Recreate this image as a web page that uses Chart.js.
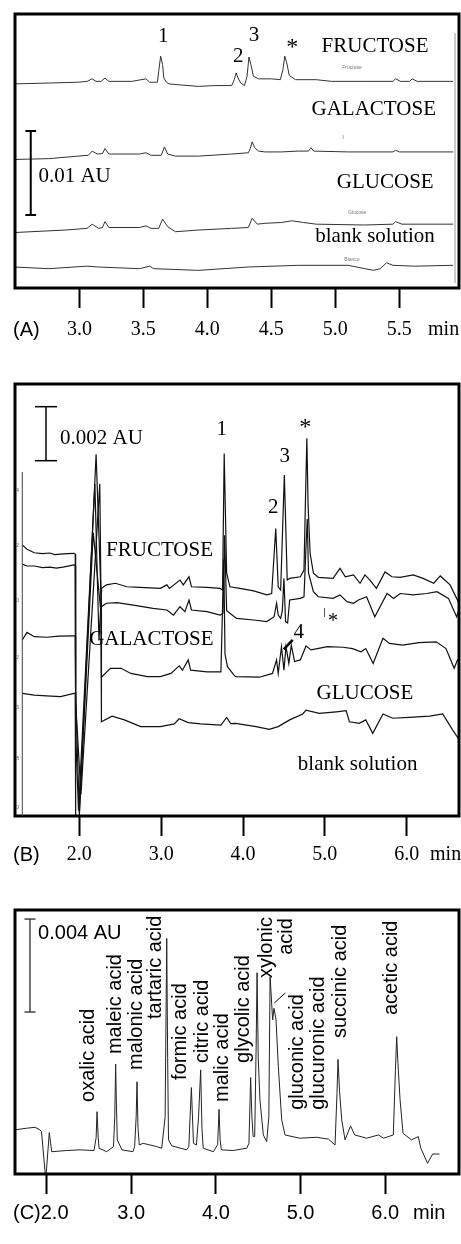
<!DOCTYPE html>
<html>
<head>
<meta charset="utf-8">
<script src="https://cdn.jsdelivr.net/npm/chart.js@4.4.1/dist/chart.umd.min.js"></script>
<style>
  html, body { margin: 0; padding: 0; background: #fff; }
  #page { position: relative; width: 461px; height: 1244px; overflow: hidden; }
  canvas { position: absolute; left: 0; }
</style>
</head>
<body>
<div id="page">
  <canvas id="chartA" width="461" height="345" style="top:0px"></canvas>
  <canvas id="chartB" width="461" height="530" style="top:345px"></canvas>
  <canvas id="chartC" width="461" height="369" style="top:875px"></canvas>
</div>
<script>
// ---- data: [time (min), signal (mAU)] ----

// panel A, sugars with 0.01 AU bar
const aTicks = [3.0, 3.5, 4.0, 4.5, 5.0, 5.5];
const aFructose = [
  [2.49, 24.3], [2.76, 24.4], [2.99, 24.5], [3.06, 24.6], [3.10, 24.9], [3.13, 24.6], [3.17, 24.6],
  [3.20, 25.0], [3.23, 24.6], [3.41, 24.6], [3.52, 24.9], [3.55, 24.5], [3.61, 24.5], [3.62, 25.8],
  [3.635, 27.6], [3.65, 26.6], [3.66, 25.0], [3.68, 24.5], [3.70, 24.3], [3.77, 24.2], [3.93, 24.0],
  [4.06, 24.1], [4.19, 24.1], [4.21, 24.8], [4.225, 25.6], [4.24, 25.0], [4.26, 24.4], [4.29, 24.1],
  [4.31, 25.2], [4.325, 27.5], [4.34, 26.6], [4.36, 25.2], [4.40, 24.9], [4.50, 24.9], [4.57, 24.8],
  [4.59, 26.0], [4.605, 27.6], [4.62, 26.8], [4.64, 25.3], [4.69, 24.8], [4.85, 24.8], [4.97, 24.6],
  [5.23, 24.6], [5.45, 24.6], [5.47, 24.9], [5.51, 24.6], [5.58, 24.6], [5.60, 24.9], [5.64, 24.6],
  [5.92, 24.6]
];
const aGalactose = [
  [2.49, 15.3], [2.76, 15.4], [2.99, 15.7], [3.07, 15.8], [3.10, 16.3], [3.14, 15.95], [3.18, 16.0],
  [3.20, 16.6], [3.23, 15.95], [3.47, 15.95], [3.52, 16.1], [3.56, 15.8], [3.64, 15.8], [3.665, 16.8],
  [3.69, 15.95], [3.75, 15.7], [3.93, 15.7], [4.19, 15.95], [4.32, 16.1], [4.335, 16.6], [4.35, 17.4],
  [4.37, 16.7], [4.40, 16.3], [4.45, 16.2], [4.58, 16.2], [4.71, 16.3], [4.79, 16.3], [4.81, 16.7],
  [4.83, 16.3], [5.10, 16.2], [5.45, 16.2], [5.47, 16.4], [5.50, 16.2], [5.92, 16.2]
];
const aGlucose = [
  [2.49, 6.6], [2.89, 6.9], [3.06, 7.1], [3.10, 7.6], [3.15, 7.1], [3.18, 7.2], [3.20, 7.9], [3.23, 7.2],
  [3.47, 7.2], [3.52, 7.4], [3.56, 7.1], [3.62, 7.1], [3.65, 8.2], [3.69, 7.3], [3.75, 6.7], [3.93, 6.9],
  [4.19, 7.1], [4.32, 7.2], [4.35, 8.3], [4.39, 7.6], [4.45, 7.7], [4.58, 7.8], [4.66, 8.0], [4.75, 7.8],
  [4.85, 7.6], [5.23, 7.5], [5.45, 7.6], [5.47, 7.9], [5.52, 7.6], [5.92, 7.6]
];
const aBlank = [
  [2.49, 2.5], [2.76, 2.3], [3.06, 2.6], [3.15, 2.5], [3.47, 2.3], [3.55, 2.6], [3.58, 2.3], [3.93, 2.1],
  [4.32, 2.5], [4.71, 2.7], [5.10, 2.7], [5.23, 2.3], [5.30, 2.1], [5.35, 2.3], [5.40, 3.0], [5.45, 2.7],
  [5.62, 2.6], [5.92, 2.7]
];

// panel B, sugars with 0.002 AU bar
const bTicks = [2, 3, 4, 5, 6];
const bFructose = [
  [1.303, 10.04], [1.36, 9.88], [1.45, 9.75], [1.55, 9.72], [1.64, 9.74], [1.70, 9.68], [1.77, 9.70],
  [1.85, 9.72], [1.935, 9.73], [1.95, 9.70], [1.955, 3.0], [1.99, 0.2], [2.19, 12.3], [2.24, 6.5],
  [2.273, 8.43], [2.33, 8.56], [2.44, 8.62], [2.58, 8.49], [2.74, 8.47], [2.99, 8.43], [3.07, 8.56],
  [3.10, 8.43], [3.23, 8.74], [3.27, 8.56], [3.34, 8.86], [3.37, 8.49], [3.56, 8.47], [3.72, 8.43],
  [3.75, 8.37], [3.77, 13.43], [3.80, 9.0], [3.84, 8.49], [3.96, 8.43], [4.13, 8.34], [4.29, 8.19],
  [4.35, 8.24], [4.40, 10.65], [4.43, 8.49], [4.46, 8.37], [4.505, 12.63], [4.54, 8.74], [4.57, 8.80],
  [4.70, 8.86], [4.745, 9.11], [4.765, 12.0], [4.78, 13.99], [4.795, 11.5], [4.82, 9.73], [4.86, 8.99],
  [4.92, 8.84], [5.10, 8.80], [5.185, 9.17], [5.25, 8.86], [5.35, 8.93], [5.43, 8.62], [5.49, 8.93],
  [5.55, 8.74], [5.63, 8.43], [5.735, 9.04], [5.82, 8.86], [5.92, 8.84], [6.08, 8.93], [6.20, 8.80],
  [6.33, 8.62], [6.41, 8.89], [6.53, 8.56], [6.61, 8.06], [6.65, 7.81]
];
const bGalactose = [
  [1.303, 9.33], [1.36, 9.26], [1.45, 9.26], [1.55, 9.20], [1.64, 9.22], [1.72, 9.18], [1.80, 9.22],
  [1.935, 9.30], [1.95, 9.28], [1.955, 4.5], [2.0, 0.1], [2.205, 13.4], [2.27, 7.75], [2.33, 7.88],
  [2.46, 7.90], [2.66, 7.81], [2.90, 7.69], [3.07, 7.63], [3.15, 7.44], [3.23, 7.75], [3.29, 7.57],
  [3.34, 8.0], [3.37, 7.63], [3.56, 7.57], [3.72, 7.44], [3.755, 7.5], [3.775, 10.4], [3.80, 7.6],
  [3.84, 7.51], [3.92, 7.32], [4.13, 7.26], [4.29, 7.20], [4.38, 7.38], [4.41, 7.88], [4.43, 7.44],
  [4.46, 7.32], [4.48, 7.6], [4.50, 8.8], [4.52, 7.2], [4.545, 7.15], [4.57, 8.0], [4.70, 8.06],
  [4.745, 8.12], [4.77, 10.0], [4.785, 11.0], [4.80, 9.0], [4.86, 8.31], [4.92, 8.12], [5.10, 8.06],
  [5.185, 8.19], [5.27, 7.94], [5.35, 7.88], [5.41, 8.0], [5.51, 8.12], [5.61, 7.38], [5.76, 8.24],
  [5.84, 8.06], [5.92, 8.24], [6.08, 8.19], [6.245, 8.24], [6.37, 8.31], [6.51, 8.06], [6.61, 7.38],
  [6.65, 7.75]
];
const bGlucose = [
  [1.303, 6.52], [1.36, 6.80], [1.45, 6.64], [1.60, 6.62], [1.75, 6.66], [1.935, 6.67], [1.95, 6.67],
  [1.955, 4.2], [2.02, 0.8], [2.25, 12.3], [2.265, 8.0], [2.27, 5.14], [2.38, 5.47], [2.51, 5.47],
  [2.63, 5.28], [2.83, 5.16], [2.99, 5.16], [3.12, 5.28], [3.22, 5.56], [3.26, 5.40], [3.33, 5.78],
  [3.36, 5.40], [3.56, 5.34], [3.73, 5.34], [3.765, 9.5], [3.78, 6.0], [3.81, 5.53], [3.89, 5.22],
  [3.91, 5.16], [4.20, 5.14], [4.36, 5.28], [4.41, 5.78], [4.43, 5.28], [4.47, 6.27], [4.50, 5.4],
  [4.525, 6.27], [4.56, 5.65], [4.59, 6.33], [4.63, 5.72], [4.70, 5.78], [4.77, 6.30], [4.83, 6.15],
  [4.91, 6.20], [5.03, 6.27], [5.22, 6.25], [5.34, 6.20], [5.44, 6.08], [5.50, 6.20], [5.59, 5.65],
  [5.71, 6.58], [5.79, 6.39], [5.95, 6.33], [6.15, 6.42], [6.36, 6.45], [6.48, 6.20], [6.58, 5.47],
  [6.62, 5.78], [6.66, 5.67]
];
const bBlank = [
  [1.303, 4.54], [1.45, 4.48], [1.60, 4.45], [1.77, 4.42], [1.935, 4.54], [1.95, 4.54], [1.955, 0.0],
  [2.0, 0.0], [2.17, 10.5], [2.265, 7.5], [2.27, 3.49], [2.40, 3.70], [2.55, 3.56], [2.75, 3.31],
  [2.99, 3.31], [3.16, 3.41], [3.22, 3.60], [3.33, 3.46], [3.48, 3.41], [3.73, 3.37], [3.80, 3.65],
  [3.85, 3.42], [3.91, 3.43], [4.16, 3.31], [4.32, 3.21], [4.43, 3.31], [4.57, 3.56], [4.73, 3.78],
  [4.77, 3.92], [4.93, 3.80], [5.14, 3.86], [5.26, 3.90], [5.30, 3.49], [5.42, 3.43], [5.50, 3.56],
  [5.585, 3.06], [5.71, 3.78], [5.83, 3.62], [6.03, 3.65], [6.28, 3.70], [6.44, 3.78], [6.56, 3.19],
  [6.63, 2.88], [6.66, 3.06]
];

// panel C, organic acid standards with 0.004 AU bar
const cTicks = [2, 3, 4, 5, 6];
const cAcids = [
  [1.627, 1.94], [1.765, 2.01], [1.863, 2.05], [1.92, 1.94], [1.94, 1.86], [1.99, -0.2], [2.032, 1.82],
  [2.06, 1.0], [2.24, 1.05], [2.395, 1.08], [2.56, 1.05], [2.585, 1.6], [2.596, 2.72], [2.61, 1.6],
  [2.62, 1.15], [2.71, 1.0], [2.79, 1.22], [2.805, 2.5], [2.816, 4.77], [2.825, 3.0], [2.835, 1.51],
  [2.89, 1.08], [3.02, 1.0], [3.04, 1.22], [3.058, 2.5], [3.068, 4.01], [3.08, 2.0], [3.095, 1.29],
  [3.14, 1.36], [3.30, 1.22], [3.36, 1.15], [3.40, 2.5], [3.419, 10.18], [3.43, 5.0], [3.44, 1.51],
  [3.48, 1.25], [3.655, 1.08], [3.68, 1.22], [3.71, 3.76], [3.735, 1.36], [3.77, 1.29], [3.795, 2.5],
  [3.82, 4.52], [3.835, 2.0], [3.85, 1.15], [3.97, 1.0], [4.02, 1.3], [4.037, 2.82], [4.05, 1.5],
  [4.064, 1.08], [4.205, 1.05], [4.364, 1.15], [4.39, 1.36], [4.41, 4.19], [4.425, 2.5], [4.44, 1.65],
  [4.458, 1.65], [4.475, 5.5], [4.486, 8.70], [4.50, 5.0], [4.52, 3.23], [4.56, 1.72], [4.60, 1.43],
  [4.625, 2.51], [4.64, 8.53], [4.67, 6.67], [4.686, 7.17], [4.71, 6.67], [4.737, 4.66], [4.777, 2.37],
  [4.816, 1.72], [4.99, 1.58], [5.19, 1.62], [5.33, 1.54], [5.407, 1.29], [5.43, 3.5], [5.442, 4.97],
  [5.46, 3.6], [5.486, 2.37], [5.525, 1.51], [5.59, 2.11], [5.64, 1.72], [5.78, 1.58], [5.92, 1.72],
  [5.98, 1.58], [6.095, 1.72], [6.12, 4.5], [6.135, 5.95], [6.15, 4.8], [6.175, 3.23], [6.21, 1.79],
  [6.31, 1.51], [6.39, 1.65], [6.42, 1.15], [6.50, 0.50], [6.56, 0.90], [6.64, 0.90]
];

// ---- drawing ----
const SERIF = "'Liberation Serif', 'Times New Roman', serif";
const SANS = "'Liberation Sans', Arial, sans-serif";

function toPoints(pairs) {
  return pairs.map((p) => ({ x: p[0], y: p[1] }));
}

// frame, scale bars, peak labels and axis extras
const panelNotes = {
  id: "panelNotes",
  afterDraw(chart, args, opts) {
    const { ctx, chartArea: area } = chart;
    const xs = chart.scales.x;
    const ys = chart.scales.y;
    ctx.save();
    ctx.lineWidth = 3;
    ctx.strokeStyle = "#000";
    ctx.strokeRect(area.left, area.top, area.right - area.left, area.bottom - area.top);

    (opts.lines || []).forEach((l) => {
      ctx.beginPath();
      ctx.lineWidth = l.width || 1;
      ctx.strokeStyle = l.color || "#000";
      ctx.moveTo(xs.getPixelForValue(l.from[0]), ys.getPixelForValue(l.from[1]));
      ctx.lineTo(xs.getPixelForValue(l.to[0]), ys.getPixelForValue(l.to[1]));
      ctx.stroke();
    });

    (opts.texts || []).forEach((t) => {
      ctx.save();
      ctx.font = t.font;
      ctx.fillStyle = t.color || "#000";
      ctx.textAlign = t.align || "center";
      ctx.textBaseline = "middle";
      ctx.translate(xs.getPixelForValue(t.at[0]), ys.getPixelForValue(t.at[1]));
      if (t.rotate) ctx.rotate(-Math.PI / 2);
      ctx.fillText(t.text, 0, 0);
      ctx.restore();
    });

    (opts.below || []).forEach((t) => {
      ctx.font = t.font;
      ctx.fillStyle = "#000";
      ctx.textAlign = "left";
      ctx.textBaseline = "middle";
      ctx.fillText(t.text, xs.getPixelForValue(t.at), area.bottom + t.dy);
    });
    ctx.restore();
  }
};

function makePanel(id, cfg) {
  return new Chart(document.getElementById(id), {
    type: "line",
    data: {
      datasets: cfg.series.map((s) => ({
        data: toPoints(s),
        borderColor: cfg.lineColor,
        borderWidth: cfg.lineWidth,
        pointRadius: 0,
        tension: 0,
        fill: false,
      }))
    },
    options: {
      responsive: false,
      animation: false,
      events: [],
      layout: { padding: cfg.padding },
      plugins: {
        legend: { display: false },
        tooltip: { enabled: false },
        panelNotes: cfg.notes,
      },
      scales: {
        x: {
          type: "linear",
          min: cfg.xMin,
          max: cfg.xMax,
          afterBuildTicks: (s) => { s.ticks = cfg.ticks.map((v) => ({ value: v })); },
          afterFit: (s) => { s.height = cfg.axisHeight; },
          ticks: {
            autoSkip: false,
            maxRotation: 0,
            padding: cfg.tickPad,
            color: "#000",
            font: { family: cfg.tickFamily, size: 20 },
            callback: cfg.tickLabel,
          },
          grid: {
            drawOnChartArea: false,
            tickLength: 20,
            tickWidth: 2,
            tickColor: "#000",
          },
          border: { display: false },
        },
        y: { display: false, min: cfg.yMin, max: cfg.yMax }
      }
    },
    plugins: [panelNotes]
  });
}

const big = "21px " + SERIF;

makePanel("chartA", {
  series: [aFructose, aGalactose, aGlucose, aBlank],
  lineColor: "#333",
  lineWidth: 1,
  padding: { top: 14, left: 15, right: 2, bottom: 0 },
  axisHeight: 57,
  tickPad: 10,
  tickFamily: SERIF,
  ticks: aTicks,
  tickLabel: (v) => v.toFixed(1),
  xMin: 2.497, xMax: 5.966,
  yMin: 0, yMax: 32.62,
  notes: {
    texts: [
      { text: "1", at: [3.656, 29.92], font: big },
      { text: "2", at: [4.242, 27.54], font: big },
      { text: "3", at: [4.365, 30.12], font: big },
      { text: "*", at: [4.664, 28.57], font: "24px " + SERIF },
      { text: "FRUCTOSE", at: [5.31, 28.73], font: big },
      { text: "GALACTOSE", at: [5.30, 21.27], font: big },
      { text: "GLUCOSE", at: [5.39, 12.54], font: big },
      { text: "blank solution", at: [5.31, 6.11], font: big },
      { text: "0.01 AU", at: [2.68, 13.25], font: big, align: "left" },
      { text: "Fructose", at: [5.13, 26.19], font: "5px " + SANS, color: "#777" },
      { text: "I", at: [5.06, 17.98], font: "6px " + SANS, color: "#777" },
      { text: "Glucose", at: [5.17, 8.93], font: "5px " + SANS, color: "#777" },
      { text: "Blanco", at: [5.13, 3.33], font: "5px " + SANS, color: "#777" },
    ],
    lines: [
      { from: [2.62, 18.69], to: [2.62, 8.69], width: 2 },
      { from: [2.578, 18.69], to: [2.662, 18.69], width: 2 },
      { from: [2.578, 8.69], to: [2.662, 8.69], width: 2 },
      { from: [5.935, 30.36], to: [5.935, 0.6], width: 1, color: "#999" },
    ],
    below: [
      { text: "(A)", at: 2.482, dy: 42, font: "20px " + SANS },
      { text: "min", at: 5.724, dy: 42, font: "20px " + SERIF },
    ]
  }
});

const tiny = "6px " + SANS;

makePanel("chartB", {
  series: [bFructose, bGalactose, bGlucose, bBlank],
  lineColor: "#111",
  lineWidth: 1.2,
  padding: { top: 39, left: 15, right: 2, bottom: 0 },
  axisHeight: 59,
  tickPad: 7,
  tickFamily: SERIF,
  ticks: bTicks,
  tickLabel: (v) => v.toFixed(1),
  xMin: 1.214, xMax: 6.639,
  yMin: 0, yMax: 16.0,
  notes: {
    texts: [
      { text: "0.002 AU", at: [1.764, 14.0], font: big, align: "left" },
      { text: "1", at: [3.74, 14.30], font: big },
      { text: "2", at: [4.37, 11.41], font: big },
      { text: "3", at: [4.51, 13.31], font: big },
      { text: "*", at: [4.76, 14.37], font: "24px " + SERIF },
      { text: "FRUCTOSE", at: [2.98, 9.83], font: big },
      { text: "GALACTOSE", at: [2.88, 6.52], font: big },
      { text: "4", at: [4.68, 6.78], font: big },
      { text: "*", at: [5.10, 7.19], font: "20px " + SERIF },
      { text: "GLUCOSE", at: [5.49, 4.54], font: big },
      { text: "blank solution", at: [5.40, 1.89], font: big },
      { text: "4", at: [1.245, 12.07], font: tiny, color: "#666" },
      { text: "2", at: [1.245, 10.04], font: tiny, color: "#666" },
      { text: "0", at: [1.245, 8.0], font: tiny, color: "#666" },
      { text: "2", at: [1.245, 5.89], font: tiny, color: "#666" },
      { text: "5", at: [1.245, 4.04], font: tiny, color: "#666" },
      { text: "8", at: [1.245, 2.15], font: tiny, color: "#666" },
      { text: "0", at: [1.245, 0.33], font: tiny, color: "#666" },
    ],
    lines: [
      { from: [1.593, 15.16], to: [1.593, 13.16], width: 1.5 },
      { from: [1.459, 15.16], to: [1.727, 15.16], width: 1.5 },
      { from: [1.459, 13.16], to: [1.727, 13.16], width: 1.5 },
      { from: [1.303, 12.74], to: [1.303, 0], width: 1, color: "#444" },
      { from: [4.497, 6.17], to: [4.607, 6.52], width: 2.5 },
      { from: [4.996, 7.70], to: [4.996, 7.37], width: 1, color: "#555" },
    ],
    below: [
      { text: "(B)", at: 1.19, dy: 39, font: "20px " + SANS },
      { text: "min", at: 6.285, dy: 39, font: "20px " + SERIF },
    ]
  }
});

const acidFont = "20px " + SANS;

makePanel("chartC", {
  series: [cAcids],
  lineColor: "#222",
  lineWidth: 1,
  padding: { top: 35, left: 15, right: 2, bottom: 0 },
  axisHeight: 70,
  tickPad: 7,
  tickFamily: SANS,
  ticks: cTicks,
  tickLabel: (v) => (v === 2 ? "" : v.toFixed(1)),
  xMin: 1.627, xMax: 6.871,
  yMin: 0.04, yMax: 11.40,
  notes: {
    texts: [
      { text: "0.004 AU", at: [1.90, 10.40], font: acidFont, align: "left" },
      { text: "oxalic acid", at: [2.50, 3.14], font: acidFont, align: "left", rotate: true },
      { text: "maleic acid", at: [2.81, 5.20], font: acidFont, align: "left", rotate: true },
      { text: "malonic acid", at: [3.06, 4.52], font: acidFont, align: "left", rotate: true },
      { text: "tartaric acid", at: [3.29, 6.71], font: acidFont, align: "left", rotate: true },
      { text: "formic acid", at: [3.58, 4.09], font: acidFont, align: "left", rotate: true },
      { text: "citric acid", at: [3.84, 4.82], font: acidFont, align: "left", rotate: true },
      { text: "malic acid", at: [4.08, 3.14], font: acidFont, align: "left", rotate: true },
      { text: "glycolic acid", at: [4.32, 4.82], font: acidFont, align: "left", rotate: true },
      { text: "xylonic", at: [4.60, 11.10], font: acidFont, align: "right", rotate: true },
      { text: "acid", at: [4.83, 11.05], font: acidFont, align: "right", rotate: true },
      { text: "gluconic acid", at: [4.96, 2.80], font: acidFont, align: "left", rotate: true },
      { text: "glucuronic acid", at: [5.21, 2.80], font: acidFont, align: "left", rotate: true },
      { text: "succinic acid", at: [5.47, 5.89], font: acidFont, align: "left", rotate: true },
      { text: "acetic acid", at: [6.07, 6.88], font: acidFont, align: "left", rotate: true },
    ],
    lines: [
      { from: [1.804, 11.01], to: [1.804, 7.01], width: 1.5, color: "#444" },
      { from: [1.739, 11.01], to: [1.869, 11.01], width: 1.5, color: "#444" },
      { from: [1.739, 7.01], to: [1.869, 7.01], width: 1.5, color: "#444" },
      { from: [4.69, 7.40], to: [4.82, 7.83], width: 1 },
    ],
    below: [
      { text: "(C)2.0", at: 1.603, dy: 39, font: "20px " + SANS },
      { text: "min", at: 6.328, dy: 39, font: "20px " + SANS },
    ]
  }
});
</script>
</body>
</html>
